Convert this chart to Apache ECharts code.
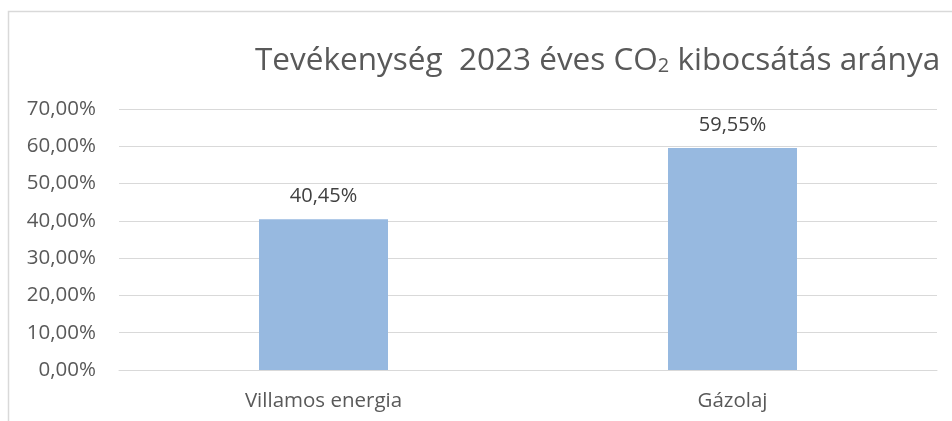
<!DOCTYPE html>
<html>
<head>
<meta charset="utf-8">
<script src="https://cdn.jsdelivr.net/npm/echarts@6/dist/echarts.min.js"></script>
<style>
  html, body { margin: 0; padding: 0; background: #fff; }
  #chart { width: 952px; height: 421px; }
</style>
</head>
<body>
<div id="chart"></div>
<script>
// kategóriák és értékek (%)
var categories = ['Villamos energia', 'Gázolaj'];
var shares = [40.45, 59.55];
var yTicks = [0, 10, 20, 30, 40, 50, 60, 70];

var fontFamily = '"Open Sans", sans-serif';
var textColor = '#595959';

function pct(v) {
  return v.toFixed(2).replace('.', ',') + '%';
}

var chart = echarts.init(document.getElementById('chart'));
chart.setOption({
  animation: false,
  // a diagram kerete (bal és felső széle látszik)
  graphic: [{
    type: 'rect',
    shape: { x: 8.5, y: 11.5, width: 1000, height: 1000 },
    style: { fill: 'none', stroke: '#D9D9D9', lineWidth: 1.5 },
    silent: true
  }],
  title: {
    text: 'Tevékenység  2023 éves CO{sub|2} kibocsátás aránya',
    left: 250,
    top: 40,
    textStyle: {
      color: textColor,
      fontFamily: fontFamily,
      fontSize: 31.5,
      fontWeight: 'normal',
      rich: {
        sub: { fontSize: 20, color: textColor, fontFamily: fontFamily, padding: [11, 0, 0, 0] }
      }
    }
  },
  grid: { left: 119, right: 15, top: 109, bottom: 51 },
  xAxis: {
    type: 'category',
    data: categories,
    axisLine: { lineStyle: { color: '#D9D9D9', width: 1 } },
    axisTick: { show: false },
    axisLabel: {
      color: textColor,
      fontFamily: fontFamily,
      fontSize: 20.5,
      margin: 21
    }
  },
  yAxis: {
    type: 'value',
    min: yTicks[0],
    max: yTicks[yTicks.length - 1],
    interval: 10,
    axisLine: { show: false },
    axisTick: { show: false },
    splitLine: { lineStyle: { color: '#D9D9D9', width: 1 } },
    axisLabel: {
      color: textColor,
      fontFamily: fontFamily,
      fontSize: 20.5,
      margin: 23,
      formatter: function (v) { return pct(v); }
    }
  },
  series: [{
    type: 'bar',
    data: shares,
    barWidth: 129,
    itemStyle: { color: '#97B9E0' },
    label: {
      show: true,
      position: 'top',
      distance: 13,
      color: '#404040',
      fontFamily: fontFamily,
      fontSize: 20,
      formatter: function (p) { return pct(p.value); }
    }
  }]
});
</script>
</body>
</html>
